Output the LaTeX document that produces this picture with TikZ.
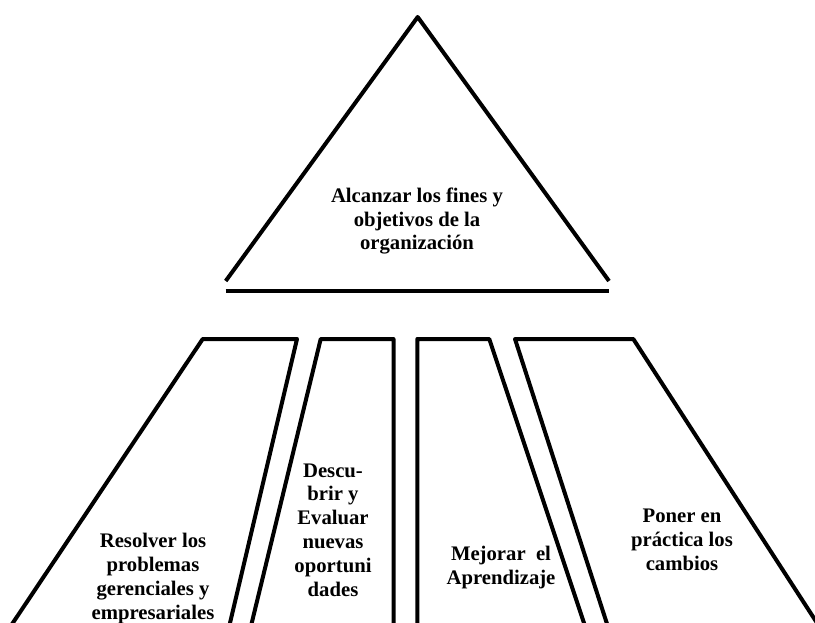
\documentclass[tikz,border=0pt]{standalone}
\usepackage{fontspec}
\setmainfont{Liberation Serif}
\begin{document}
\begin{tikzpicture}[x=1pt,y=-1pt,
  outline/.style={line width=4pt,line join=round},
  label/.style={align=center,font=\bfseries\fontsize{20.7}{23.8}\selectfont,inner sep=0pt}]
\useasboundingbox (0,0) rectangle (815,623);
\clip (0,0) rectangle (815,623);
% top triangle and its base bar
\draw[outline] (225.7,281) -- (417.7,17) -- (609,281);
\draw[outline] (225.7,290.7) -- (609,290.7);
\node[label] (goal) at (417,221) {Alcanzar los fines y\\objetivos de la\\organización};
% the four pillars, open at the bottom
\draw[outline] (10.8,626) -- (202.7,339) -- (297,339) -- (229.3,626);
\draw[outline] (251,626) -- (320.7,339) -- (393.5,339) -- (393.5,626);
\draw[outline] (417.3,626) -- (417.3,339) -- (489.3,339) -- (585,626);
\draw[outline] (607.7,626) -- (515,339) -- (633.3,339) -- (819,626);
\node[label] (p1) at (153,578.5) {Resolver los\\problemas\\gerenciales y\\empresariales};
\node[label] (p2) at (333,530) {Descu-\\brir y\\Evaluar\\nuevas\\oportuni\\dades};
\node[label] (p3) at (501,567.5) {Mejorar~ el\\Aprendizaje};
\node[label] (p4) at (682,540) {Poner en\\práctica los\\cambios};
\end{tikzpicture}
\end{document}
